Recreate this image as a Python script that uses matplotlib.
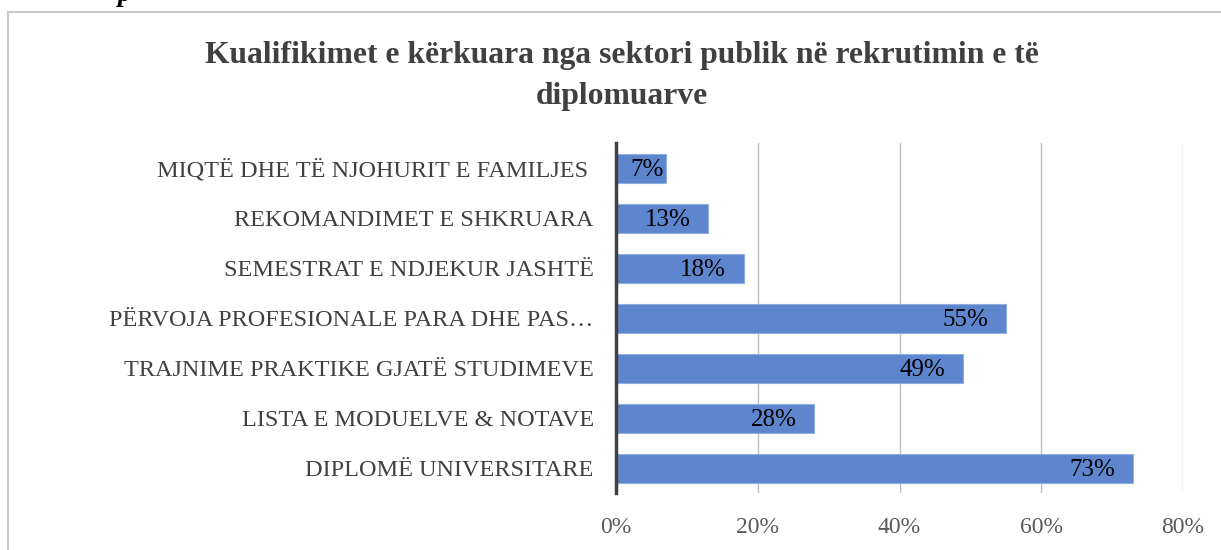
import matplotlib.pyplot as plt
import matplotlib.ticker as ticker
from matplotlib.patches import Rectangle

plt.rcParams['font.family'] = ['Liberation Serif', 'DejaVu Serif']

categories = [
    'DIPLOMË UNIVERSITARE',
    'LISTA E MODUELVE & NOTAVE',
    'TRAJNIME PRAKTIKE GJATË STUDIMEVE',
    'PËRVOJA PROFESIONALE PARA DHE PAS…',
    'SEMESTRAT E NDJEKUR JASHTË',
    'REKOMANDIMET E SHKRUARA',
    'MIQTË DHE TË NJOHURIT E FAMILJES ',
]
values = [0.73, 0.28, 0.49, 0.55, 0.18, 0.13, 0.07]
x_ticks = [0.0, 0.2, 0.4, 0.6, 0.8]
title = 'Kualifikimet e kërkuara nga sektori publik në rekrutimin e të\ndiplomuarve'

W, H = 1221, 550
fig = plt.figure(figsize=(W / 100, H / 100), dpi=100)
fig.patch.set_facecolor('white')

# chart frame (cut by the page on the right and bottom)
fig.patches.append(Rectangle((8 / W, -0.1), 1.2, 1 - 11.5 / H + 0.1,
                             transform=fig.transFigure, fill=False,
                             edgecolor='#C8C8C8', linewidth=1.5))
# cut-off heading above the chart
fig.text(118 / W, 1 - 1 / H, 'p', fontsize=20, fontweight='bold',
         fontstyle='italic', va='baseline', ha='left', color='black')

ax = fig.add_axes([616 / W, 1 - 493 / H, 567 / W, 350 / H])
ypos = range(len(categories))
ax.barh(ypos, values, height=0.58, color='#5D86CE', edgecolor='#8FADE0',
        linewidth=0.8, zorder=2)
for y, v in zip(ypos, values):
    # inside end; short bars get the label pushed to the end
    xe = v - 0.025 if v > 0.1 else v - 0.003
    ax.text(xe, y - 0.03, f'{round(v * 100)}%', ha='right', va='center',
            fontsize=18, color='black', zorder=3)

ax.set_xlim(0, 0.8)
ax.set_ylim(-0.5, len(categories) - 0.5)
ax.set_xticks(x_ticks)
ax.xaxis.set_major_formatter(ticker.FuncFormatter(lambda x, p: f'{x * 100:.0f}%'))
ax.set_yticks(list(ypos))
ax.set_yticklabels(categories)
ax.grid(axis='x', color='#BFBFBF', linewidth=1, zorder=0)
ax.tick_params(axis='x', length=0, pad=17, labelsize=17, labelcolor='#595959')
ax.tick_params(axis='y', length=0, pad=16, labelsize=17.5, labelcolor='#404040')
for s in ['top', 'right', 'bottom']:
    ax.spines[s].set_visible(False)
ax.spines['left'].set_color('#404040')
ax.spines['left'].set_linewidth(2.5)
ax.spines['left'].set_zorder(4)

fig.text(622 / W, 1 - 76 / H, title, ha='center', va='center', fontsize=22.8,
         fontweight='bold', color='#404040', linespacing=1.55)

fig.savefig('out.png', dpi=100)
